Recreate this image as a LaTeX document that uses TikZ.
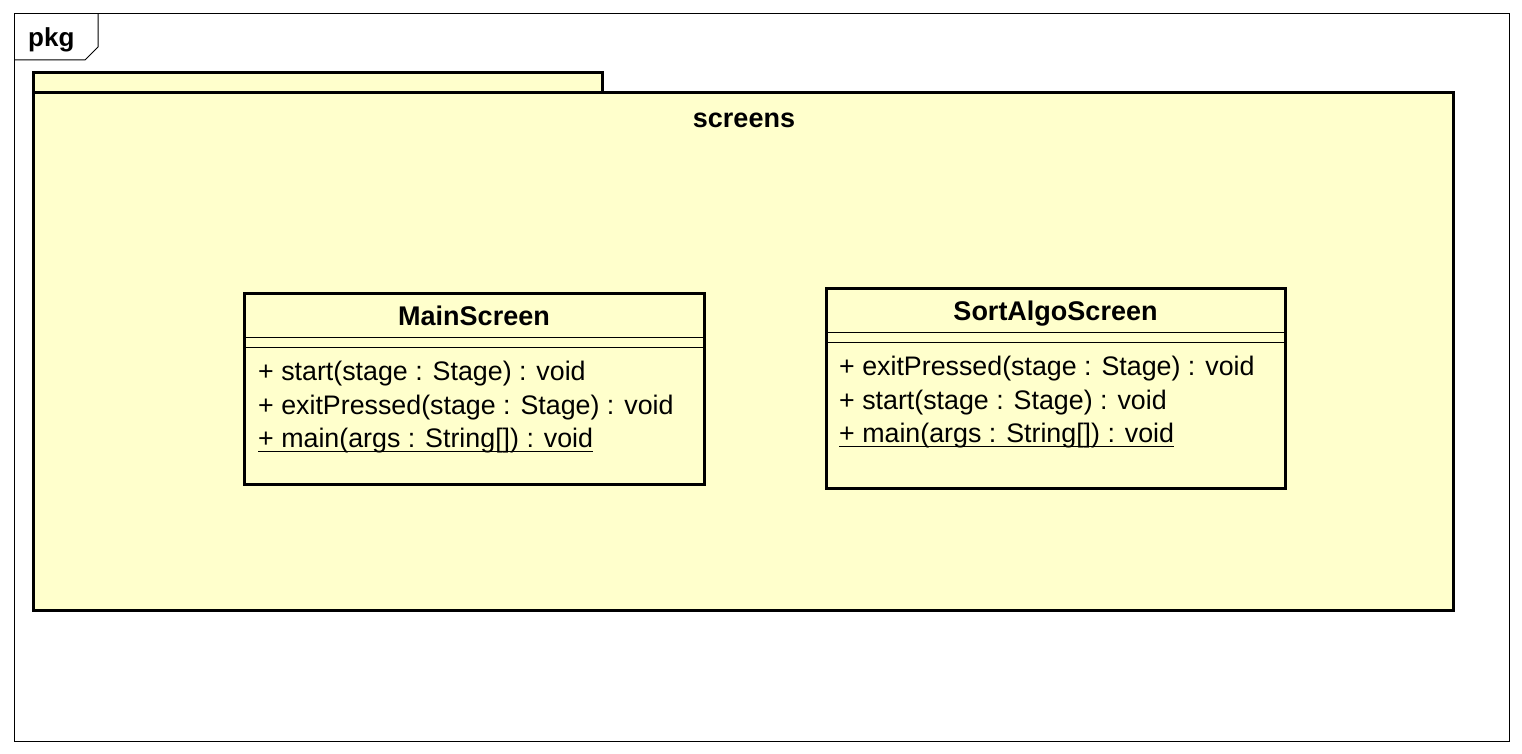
\documentclass[tikz,border=0pt]{standalone}
\usepackage{fontspec}
\setmainfont{Liberation Sans}
\definecolor{umlfill}{HTML}{FFFFCC}
\begin{document}
\begin{tikzpicture}[x=1pt,y=-1pt,
  thinline/.style={draw=black,line width=1pt},
  thickline/.style={draw=black,line width=3pt},
  methodtext/.style={anchor=base west,inner sep=0pt,font=\fontsize{26.8}{30}\selectfont},
  titletext/.style={anchor=base,inner sep=0pt,font=\fontsize{27}{30}\selectfont\bfseries},
]
\useasboundingbox[fill=white] (0,0) rectangle (1522,754);
% outer frame
\draw[thinline] (14,14) rectangle (1509,741);
\draw[thinline] (14,60) -- (85,60) -- (98,47) -- (98,14);
\node[titletext,anchor=base west,font=\fontsize{26}{30}\selectfont\bfseries] (pkg) at (28,47) {pkg};
% package screens
\draw[thickline,fill=umlfill] (33,73) rectangle (602,93);
\draw[thickline,fill=umlfill] (33,93) rectangle (1453,610);
\node[titletext] (screens) at (744,128) {screens};
% MainScreen
\draw[thickline,fill=umlfill] (244,293) rectangle (704,484);
\node[titletext] (ms) at (474,325) {MainScreen};
\draw[thinline] (244,337) -- (704,337);
\draw[thinline] (244,347) -- (704,347);
\node[methodtext] (ms1) at (258,380) {+ start(stage : Stage) : void};
\node[methodtext] (ms2) at (258,414) {+ exitPressed(stage : Stage) : void};
\node[methodtext] (ms3) at (258,447) {+ main(args : String[]) : void};
\draw[thinline] ([yshift=-4pt]ms3.base west) -- ([yshift=-4pt]ms3.base east);
% SortAlgoScreen
\draw[thickline,fill=umlfill] (826,288) rectangle (1285,488);
\node[titletext] (sa) at (1055.5,320) {SortAlgoScreen};
\draw[thinline] (826,332) -- (1285,332);
\draw[thinline] (826,342) -- (1285,342);
\node[methodtext] (sa1) at (839,375) {+ exitPressed(stage : Stage) : void};
\node[methodtext] (sa2) at (839,409) {+ start(stage : Stage) : void};
\node[methodtext] (sa3) at (839,442) {+ main(args : String[]) : void};
\draw[thinline] ([yshift=-4pt]sa3.base west) -- ([yshift=-4pt]sa3.base east);
\end{tikzpicture}
\end{document}
